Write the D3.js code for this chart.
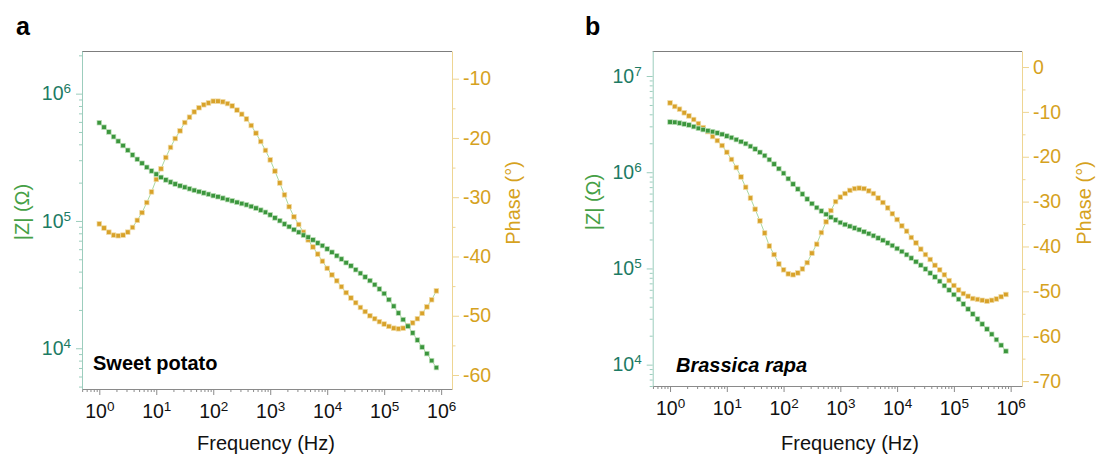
<!DOCTYPE html>
<html>
<head>
<meta charset="utf-8">
<script src="https://cdn.jsdelivr.net/npm/d3@7"></script>
<style>
  body { margin: 0; background: #fff; }
  svg { display: block; font-family: "Liberation Sans", Arial, Helvetica, sans-serif; }
</style>
</head>
<body>
<svg id="chart" width="1097" height="455"></svg>
<script>
'use strict'

// frequency sweep (Hz), 12 points per decade
const freq = [
  1, 1.21, 1.47, 1.78, 2.15, 2.61, 3.16, 3.83, 4.64, 5.62, 6.81, 8.25,
  10, 12.1, 14.7, 17.8, 21.5, 26.1, 31.6, 38.3, 46.4, 56.2, 68.1, 82.5,
  100, 121, 147, 178, 215, 261, 316, 383, 464, 562, 681, 825,
  1000, 1210, 1470, 1780, 2150, 2610, 3160, 3830, 4640, 5620, 6810, 8250,
  10000, 12100, 14700, 17800, 21500, 26100, 31600, 38300, 46400, 56200, 68100, 82500,
  100000, 121000, 147000, 178000, 215000, 261000, 316000, 383000, 464000, 562000, 681000, 825000
]

// panel a: sweet potato
const sweetZ = [
  591000, 545000, 500000, 459000, 423000, 391000, 359000, 330000, 305000, 284000, 264000, 247000,
  233000, 220000, 210000, 202000, 195000, 189000, 184000, 179000, 174000, 170000, 166000, 162000,
  158000, 155000, 151000, 147000, 144000, 140000, 137000, 134000, 130000, 126000, 121600, 117000,
  111700, 105700, 100500, 94600, 90200, 85500, 81500, 77300, 74500, 71000, 67100, 64000,
  60300, 56800, 53300, 50200, 47000, 44400, 41400, 38800, 36300, 34000, 31600, 29200,
  26900, 24100, 21400, 18900, 16800, 14900, 13200, 11600, 10200, 9080, 8000, 7050
]
const sweetPhase = [
  -34.5, -35.2, -35.9, -36.4, -36.5, -36.4, -35.9, -35.1, -33.9, -32.6, -30.9, -29.1,
  -27.0, -25.2, -23.3, -21.6, -20.1, -18.8, -17.4, -16.5, -15.6, -14.9, -14.4, -14.1,
  -13.8, -13.8, -13.9, -14.2, -14.6, -15.3, -16.0, -16.8, -17.9, -19.2, -20.6, -22.1,
  -23.7, -25.6, -27.6, -29.6, -31.6, -33.3, -34.6, -35.9, -37.2, -38.4, -39.6, -40.8,
  -42.0, -43.1, -44.1, -45.1, -46.1, -47.0, -47.8, -48.6, -49.3, -50.0, -50.5, -51.0,
  -51.4, -51.8, -52.1, -52.2, -52.1, -51.7, -51.2, -50.5, -49.6, -48.5, -47.3, -45.8
]

// panel b: Brassica rapa
const brassicaZ = [
  3327000, 3304000, 3243000, 3170000, 3097000, 2979000, 2858000, 2773000, 2704000, 2642000, 2559000, 2477000,
  2377000, 2291000, 2183000, 2080000, 1982000, 1858000, 1742000, 1611000, 1489000, 1352000, 1216000, 1089000,
  975000, 857000, 753000, 668000, 593000, 526000, 472000, 429000, 395000, 365000, 340000, 319000,
  300000, 286000, 274000, 263000, 253000, 241000, 230000, 219000, 207000, 196000, 184000, 173000,
  161000, 150000, 139000, 128000, 117500, 108000, 98600, 89500, 81500, 73500, 66200, 59600,
  53500, 47800, 42700, 37800, 33600, 29800, 26400, 23400, 20700, 18200, 15900, 13800
]
const brassicaPhase = [
  -8.0, -8.8, -9.4, -10.2, -10.9, -11.7, -12.6, -13.5, -14.4, -15.5, -16.4, -17.5,
  -19.0, -20.6, -22.4, -24.5, -26.8, -29.2, -31.7, -34.3, -37.0, -39.9, -41.8, -43.9,
  -45.2, -46.1, -46.3, -45.9, -45.0, -43.6, -41.5, -39.5, -36.9, -34.5, -32.0, -30.0,
  -29.0, -28.2, -27.5, -27.1, -27.0, -27.1, -27.6, -28.2, -29.2, -30.2, -31.4, -32.7,
  -34.0, -35.4, -36.6, -38.0, -39.2, -40.6, -41.8, -42.9, -44.2, -45.2, -46.3, -47.6,
  -48.7, -49.7, -50.5, -51.1, -51.6, -51.8, -52.0, -52.2, -52.0, -51.7, -51.2, -50.7
]

// tick labels
const freqTicks = [1, 10, 100, 1e3, 1e4, 1e5, 1e6]
const sweetZTicks = [1e4, 1e5, 1e6]
const sweetPhaseTicks = [-60, -50, -40, -30, -20, -10]
const sweetPhaseMinor = [-55, -45, -35, -25, -15]
const brassicaZTicks = [1e4, 1e5, 1e6, 1e7]
const brassicaPhaseTicks = [-70, -60, -50, -40, -30, -20, -10, 0]
const brassicaPhaseMinor = [-65, -55, -45, -35, -25, -15, -5]

const GREEN = '#3b963d'
const ORANGE = '#d8a22a'
const TEAL = '#1d7b64'
const GOLD = '#d6a21e'
const LINK = '#a9d8a2'

const panels = [
  {
    letter: 'a', name: 'Sweet potato', italic: false,
    z: sweetZ, phase: sweetPhase,
    zTicks: sweetZTicks, pTicks: sweetPhaseTicks, pMinor: sweetPhaseMinor,
    left: 82, right: 452, top: 51, bottom: 389,
    xDomain: [0.497, 1.55e6], zDomain: [4786, 2.163e6], pDomain: [-62.36, -5.33],
    letterX: 16, nameX: 93, nameY: 370,
    zTitle: [29, 212], pTitle: [520, 203], xTitleX: 266
  },
  {
    letter: 'b', name: 'Brassica rapa', italic: true,
    z: brassicaZ, phase: brassicaPhase,
    zTicks: brassicaZTicks, pTicks: brassicaPhaseTicks, pMinor: brassicaPhaseMinor,
    left: 652.7, right: 1022, top: 51, bottom: 386,
    xDomain: [0.495, 1.585e6], zDomain: [6000, 1.82e7], pDomain: [-71.1, 3.57],
    letterX: 585, nameX: 676, nameY: 372,
    zTitle: [600, 202], pTitle: [1091, 203], xTitleX: 850
  }
]

const svg = d3.select('#chart')
const FONT = '"Liberation Sans", Arial, Helvetica, sans-serif'

const isPow10 = v => Math.abs(Math.log10(v) - Math.round(Math.log10(v))) < 1e-9

function powerLabels(sel) {
  sel.selectAll('.tick text').each(function (d) {
    const t = d3.select(this)
    t.text('10')
    t.append('tspan').attr('font-size', 13.5).attr('dy', -7).text(Math.round(Math.log10(d)))
  })
}

function styleAxis(sel, lineColor, textColor, size) {
  sel.attr('font-family', FONT).attr('font-size', size)
  sel.selectAll('line').attr('stroke', lineColor)
  sel.selectAll('.domain').attr('stroke', lineColor)
  sel.selectAll('text').attr('fill', textColor)
}

function drawPanel(p) {
  const g = svg.append('g')

  const x = d3.scaleLog().domain(p.xDomain).range([p.left, p.right])
  const yZ = d3.scaleLog().domain(p.zDomain).range([p.bottom, p.top])
  const yP = d3.scaleLinear().domain(p.pDomain).range([p.bottom, p.top])

  // top frame
  g.append('line')
    .attr('x1', p.left).attr('x2', p.right)
    .attr('y1', p.top + 0.5).attr('y2', p.top + 0.5)
    .attr('stroke', '#7d7d7d')

  // bottom axis
  g.append('g')
    .attr('transform', `translate(0,${p.bottom})`)
    .call(d3.axisBottom(x).tickValues(x.ticks().filter(v => !isPow10(v))).tickSize(3).tickFormat(''))
    .call(s => s.select('.domain').remove())
    .call(s => styleAxis(s, '#8a8a8a', '#000', 19.5))
  g.append('g')
    .attr('transform', `translate(0,${p.bottom})`)
    .call(d3.axisBottom(x).tickValues(freqTicks).tickSizeInner(6).tickSizeOuter(0).tickPadding(9.5))
    .call(s => styleAxis(s, '#8a8a8a', '#111', 19.5))
    .call(powerLabels)

  // left |Z| axis
  g.append('g')
    .attr('transform', `translate(${p.left},0)`)
    .call(d3.axisLeft(yZ).tickValues(yZ.ticks().filter(v => !isPow10(v))).tickSize(3).tickFormat(''))
    .call(s => s.select('.domain').remove())
    .call(s => styleAxis(s, '#9ccdbd', TEAL, 19.5))
  g.append('g')
    .attr('transform', `translate(${p.left},0)`)
    .call(d3.axisLeft(yZ).tickValues(p.zTicks).tickSizeInner(6).tickSizeOuter(0).tickPadding(5))
    .call(s => styleAxis(s, '#9ccdbd', TEAL, 19.5))
    .call(powerLabels)

  // right phase axis
  g.append('g')
    .attr('transform', `translate(${p.right},0)`)
    .call(d3.axisRight(yP).tickValues(p.pMinor).tickSize(3.5).tickFormat(''))
    .call(s => s.select('.domain').remove())
    .call(s => styleAxis(s, '#eed592', GOLD, 19.5))
  g.append('g')
    .attr('transform', `translate(${p.right},0)`)
    .call(d3.axisRight(yP).tickValues(p.pTicks).tickSizeInner(7).tickSizeOuter(0).tickPadding(4)
      .tickFormat(d => (d < 0 ? '-' : '') + Math.abs(d)))
    .call(s => styleAxis(s, '#eed592', GOLD, 19.5))

  // connecting lines
  const zPts = freq.map((f, i) => [f, p.z[i]])
  const pPts = freq.map((f, i) => [f, p.phase[i]])
  g.append('path')
    .attr('d', d3.line().x(d => x(d[0])).y(d => yP(d[1]))(pPts))
    .attr('fill', 'none').attr('stroke', LINK).attr('stroke-width', 1)
  g.append('path')
    .attr('d', d3.line().x(d => x(d[0])).y(d => yZ(d[1]))(zPts))
    .attr('fill', 'none').attr('stroke', LINK).attr('stroke-width', 1)

  const s = 4.6
  g.append('g').selectAll('rect')
    .data(pPts).enter().append('rect')
    .attr('x', d => x(d[0]) - s / 2).attr('y', d => yP(d[1]) - s / 2)
    .attr('width', s).attr('height', s)
    .attr('fill', ORANGE).attr('stroke', '#f1dca6').attr('stroke-width', 0.7)
  g.append('g').selectAll('rect')
    .data(zPts).enter().append('rect')
    .attr('x', d => x(d[0]) - s / 2).attr('y', d => yZ(d[1]) - s / 2)
    .attr('width', s).attr('height', s)
    .attr('fill', GREEN).attr('stroke', '#bfe0bb').attr('stroke-width', 0.7)

  // titles
  g.append('text')
    .attr('x', p.letterX).attr('y', 35)
    .attr('font-size', 25).attr('font-weight', 'bold')
    .text(p.letter)
  g.append('text')
    .attr('x', p.nameX).attr('y', p.nameY)
    .attr('font-size', 20).attr('font-weight', 'bold')
    .attr('font-style', p.italic ? 'italic' : 'normal')
    .text(p.name)
  g.append('text')
    .attr('x', p.xTitleX).attr('y', 450)
    .attr('text-anchor', 'middle').attr('font-size', 20).attr('fill', '#111')
    .text('Frequency (Hz)')
  g.append('text')
    .attr('transform', `translate(${p.zTitle[0]},${p.zTitle[1]}) rotate(-90)`)
    .attr('text-anchor', 'middle').attr('font-size', 20).attr('fill', '#46a046')
    .text('|Z| (Ω)')
  g.append('text')
    .attr('transform', `translate(${p.pTitle[0]},${p.pTitle[1]}) rotate(-90)`)
    .attr('text-anchor', 'middle').attr('font-size', 20).attr('fill', GOLD)
    .text('Phase (°)')
}

panels.forEach(drawPanel)
</script>
</body>
</html>
